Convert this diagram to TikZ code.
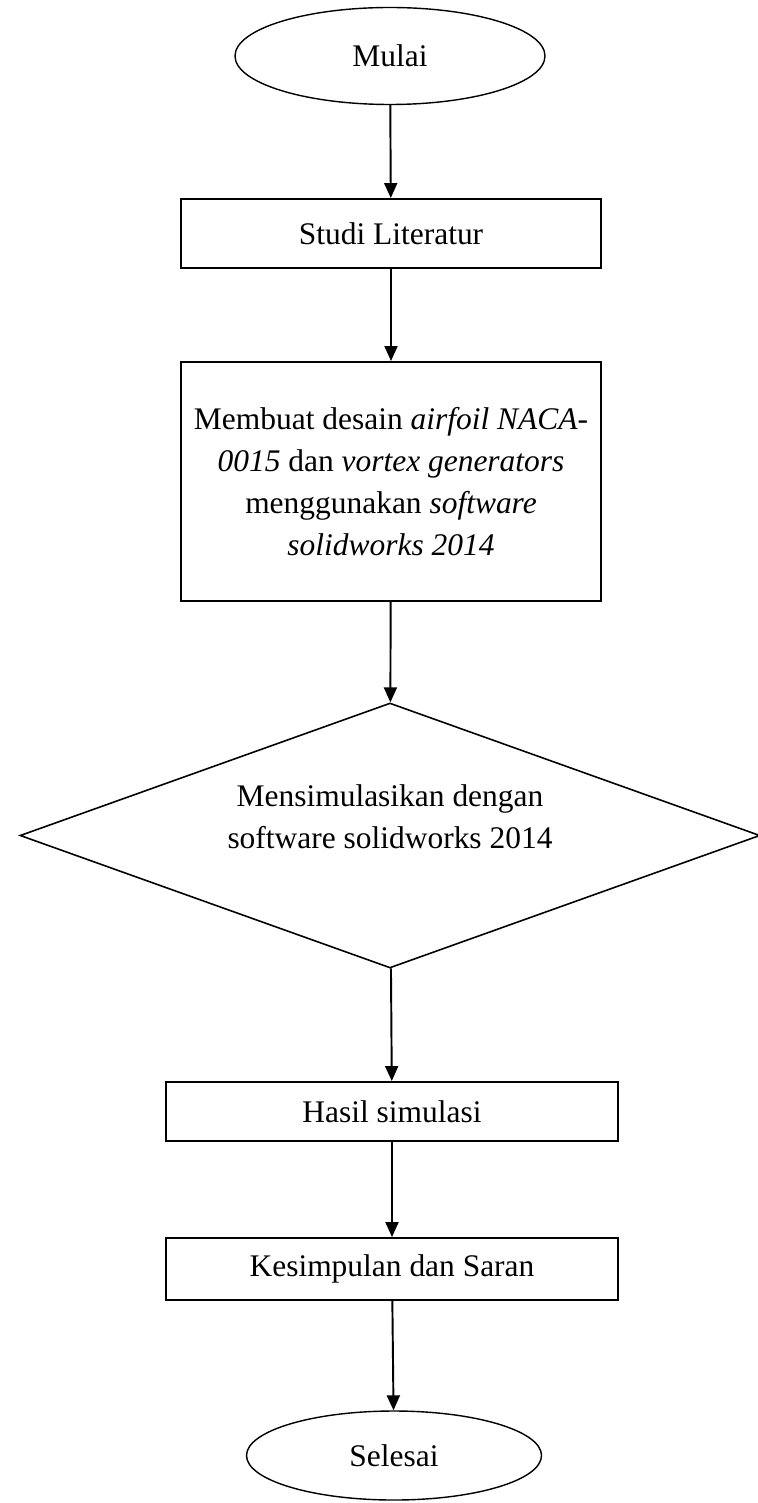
\documentclass[tikz,border=0pt]{standalone}
\usepackage{fontspec}
\setmainfont{Liberation Serif}
\usetikzlibrary{shapes.geometric}
\usetikzlibrary{arrows.meta}

\tikzset{
	proses/.style={draw, line width=1.1pt, rectangle, minimum width=8.4cm, inner sep=0pt, align=center},
	terminal/.style={draw, line width=0.8pt, ellipse, inner sep=0pt},
	keputusan/.style={draw, line width=0.9pt, diamond, aspect=2.8, inner sep=0pt},
	panah/.style={line width=1.1pt, -{Triangle[length=0.3cm,width=0.26cm]}}
}

\begin{document}
\begin{tikzpicture}[font=\fontsize{17.9}{23.9}\selectfont]
		\useasboundingbox (0, 0) rectangle (15.16, -30.06);
		\node[terminal, minimum width=6.2cm, minimum height=1.94cm] (mulai) at (7.8, -1.12) {Mulai};
		\node[proses, minimum height=1.38cm] (studi) at (7.82, -4.67) {Studi Literatur};
		\node[proses, minimum height=4.78cm] (desain) at (7.82, -9.63) {Membuat desain \textit{airfoil NACA-}\\\textit{0015} dan \textit{vortex generators}\\menggunakan \textit{software}\\\textit{solidworks 2014}};
		\node[keputusan, minimum width=14.8cm, minimum height=5.3cm] (simulasi) at (7.8, -16.71) {\raisebox{0.18cm}[0pt][0pt]{\begin{tabular}{@{}c@{}}Mensimulasikan dengan\\software solidworks 2014\end{tabular}}};
		\node[proses, minimum width=9.04cm, minimum height=1.18cm] (hasil) at (7.84, -22.23) {Hasil simulasi};
		\node[proses, minimum width=9.04cm, minimum height=1.24cm] (kesimpulan) at (7.84, -25.38) {Kesimpulan dan Saran};
		\node[terminal, minimum width=5.9cm, minimum height=1.78cm] (selesai) at (7.88, -29.11) {Selesai};
		\draw[panah] (mulai) -- (studi);
		\draw[panah] (studi) -- (desain);
		\draw[panah] (desain) -- (simulasi);
		\draw[panah] (simulasi) -- (hasil);
		\draw[panah] (hasil) -- (kesimpulan);
		\draw[panah] (kesimpulan) -- (selesai);
	\end{tikzpicture}
\end{document}
